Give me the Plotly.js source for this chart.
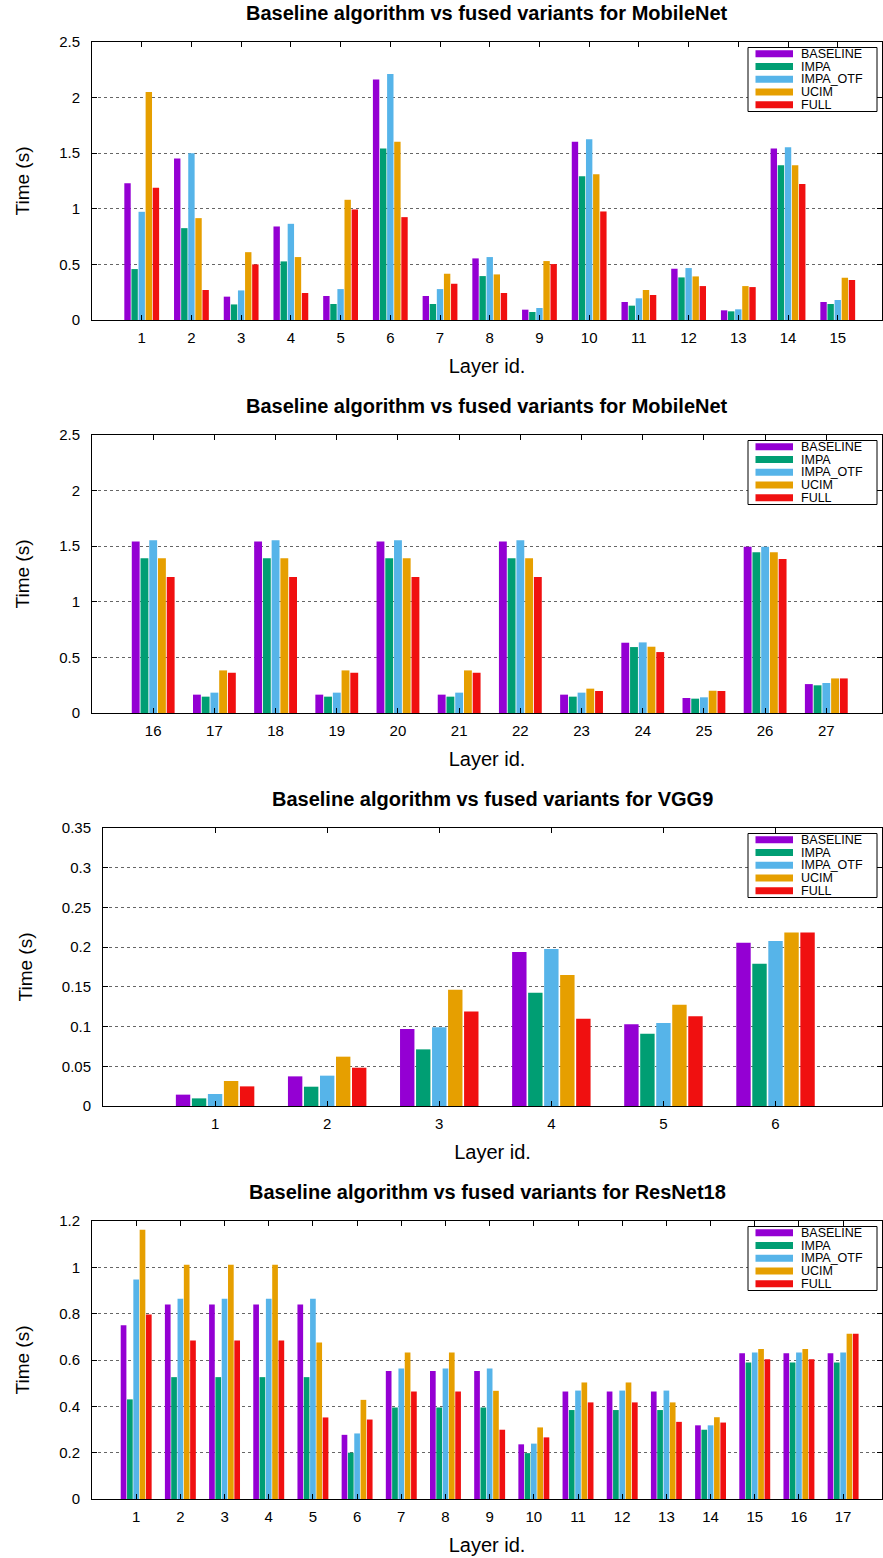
<!DOCTYPE html>
<html><head><meta charset="utf-8">
<script src="https://cdn.plot.ly/plotly-3.0.1.min.js"></script>
<style>html,body{margin:0;padding:0;background:#fff}</style>
</head><body><div id="chart" style="width:883px;height:1558px"></div>
<script>
// ---------- data ----------
const seriesNames = ['BASELINE', 'IMPA', 'IMPA_OTF', 'UCIM', 'FULL'];
const seriesColors = ['#9400d3', '#009e73', '#56b4e9', '#e69f00', '#f01010'];

const mobileA_layers = [1,2,3,4,5,6,7,8,9,10,11,12,13,14,15];
const mobileA_baseline = [1.23, 1.452, 0.21, 0.841, 0.216, 2.162, 0.216, 0.554, 0.093, 1.602, 0.162, 0.461, 0.087, 1.542, 0.162];
const mobileA_impa     = [0.458, 0.826, 0.14, 0.527, 0.144, 1.542, 0.144, 0.395, 0.072, 1.293, 0.129, 0.383, 0.078, 1.392, 0.144];
const mobileA_otf      = [0.973, 1.50, 0.266, 0.865, 0.278, 2.213, 0.278, 0.566, 0.108, 1.626, 0.195, 0.467, 0.096, 1.554, 0.18];
const mobileA_ucim     = [2.05, 0.916, 0.61, 0.566, 1.081, 1.602, 0.416, 0.41, 0.53, 1.311, 0.27, 0.392, 0.305, 1.392, 0.38];
const mobileA_full     = [1.19, 0.27, 0.5, 0.243, 0.994, 0.925, 0.326, 0.243, 0.503, 0.976, 0.225, 0.305, 0.296, 1.222, 0.36];

const mobileB_layers = [16,17,18,19,20,21,22,23,24,25,26,27];
const mobileB_baseline = [1.542, 0.165, 1.542, 0.165, 1.542, 0.165, 1.542, 0.165, 0.632, 0.135, 1.494, 0.26];
const mobileB_impa     = [1.392, 0.147, 1.392, 0.147, 1.392, 0.147, 1.392, 0.147, 0.593, 0.129, 1.446, 0.249];
const mobileB_otf      = [1.554, 0.183, 1.554, 0.183, 1.554, 0.183, 1.554, 0.183, 0.635, 0.141, 1.494, 0.27];
const mobileB_ucim     = [1.392, 0.383, 1.392, 0.383, 1.392, 0.383, 1.392, 0.219, 0.596, 0.2, 1.446, 0.311];
const mobileB_full     = [1.222, 0.362, 1.222, 0.362, 1.222, 0.362, 1.222, 0.198, 0.548, 0.198, 1.386, 0.311];

const vgg_layers = [1,2,3,4,5,6];
const vgg_baseline = [0.0143, 0.0373, 0.0969, 0.1938, 0.103, 0.2055];
const vgg_impa     = [0.0096, 0.0243, 0.0713, 0.1426, 0.091, 0.179];
const vgg_otf      = [0.0151, 0.0382, 0.099, 0.1976, 0.1044, 0.2076];
const vgg_ucim     = [0.0315, 0.0621, 0.1464, 0.165, 0.1275, 0.2185];
const vgg_full     = [0.0247, 0.0482, 0.119, 0.110, 0.113, 0.2185];

const resnet_layers = [1,2,3,4,5,6,7,8,9,10,11,12,13,14,15,16,17];
const resnet_baseline = [0.75, 0.84, 0.84, 0.84, 0.84, 0.277, 0.553, 0.553, 0.553, 0.236, 0.464, 0.464, 0.464, 0.318, 0.629, 0.629, 0.629];
const resnet_impa     = [0.43, 0.526, 0.526, 0.526, 0.526, 0.2, 0.395, 0.395, 0.395, 0.198, 0.384, 0.384, 0.384, 0.299, 0.589, 0.589, 0.589];
const resnet_otf      = [0.947, 0.864, 0.864, 0.864, 0.864, 0.283, 0.563, 0.563, 0.563, 0.239, 0.468, 0.468, 0.468, 0.318, 0.632, 0.632, 0.632];
const resnet_ucim     = [1.162, 1.011, 1.011, 1.011, 0.675, 0.428, 0.632, 0.632, 0.467, 0.309, 0.503, 0.503, 0.417, 0.353, 0.648, 0.648, 0.713];
const resnet_full     = [0.796, 0.684, 0.684, 0.684, 0.352, 0.343, 0.464, 0.464, 0.299, 0.266, 0.417, 0.417, 0.333, 0.330, 0.603, 0.603, 0.713];

// ---------- layout helpers ----------
const W = 883, H = 1558;
const ML = 92, MR = 1, MT = 42, MB = 59;
const PW = W - ML - MR, PH = H - MT - MB;
const X = px => (px - ML) / PW;
const Y = py => 1 - (py - MT) / PH;
const FONT = 'Liberation Sans, Arial, Helvetica, sans-serif';

const panels = [
  {title: 'Baseline algorithm vs fused variants for MobileNet', layers: mobileA_layers,
   values: [mobileA_baseline, mobileA_impa, mobileA_otf, mobileA_ucim, mobileA_full],
   yrange: [0, 2.5], dtick: 0.5, xrange: [0, 15.89], frame: [92, 882, 42, 320], ystand: 24},
  {title: 'Baseline algorithm vs fused variants for MobileNet', layers: mobileB_layers,
   values: [mobileB_baseline, mobileB_impa, mobileB_otf, mobileB_ucim, mobileB_full],
   yrange: [0, 2.5], dtick: 0.5, xrange: [15, 27.91], frame: [92, 882, 435, 713], ystand: 24},
  {title: 'Baseline algorithm vs fused variants for VGG9', layers: vgg_layers,
   values: [vgg_baseline, vgg_impa, vgg_otf, vgg_ucim, vgg_full],
   yrange: [0, 0.35], dtick: 0.05, xrange: [0, 6.95], frame: [103, 882, 828, 1106], ystand: 24},
  {title: 'Baseline algorithm vs fused variants for ResNet18', layers: resnet_layers,
   values: [resnet_baseline, resnet_impa, resnet_otf, resnet_ucim, resnet_full],
   yrange: [0, 1.2], dtick: 0.2, xrange: [0, 17.88], frame: [92, 882, 1221, 1499], ystand: 24}
];

const data = [];
const layout = {
  width: W, height: H,
  margin: {l: ML, r: MR, t: MT, b: MB},
  paper_bgcolor: '#fff', plot_bgcolor: '#fff',
  barmode: 'group', bargap: 2/7, bargroupgap: 0.1,
  showlegend: false,
  font: {family: FONT, color: '#000'},
  annotations: [], shapes: []
};

panels.forEach((p, i) => {
  const sfx = i === 0 ? '' : String(i + 1);
  const [l, r, t, b] = p.frame;
  p.values.forEach((vals, s) => {
    data.push({
      type: 'bar', x: p.layers, y: vals, name: seriesNames[s],
      marker: {color: seriesColors[s], line: {width: 0}},
      xaxis: 'x' + sfx, yaxis: 'y' + sfx, showlegend: false
    });
  });
  layout['xaxis' + sfx] = {
    domain: [X(l), X(r)], anchor: 'y' + sfx, range: p.xrange,
    tickmode: 'array', tickvals: p.layers, ticktext: p.layers.map(String),
    ticks: 'inside', ticklen: 5, tickcolor: '#000', tickwidth: 1,
    showline: true, linecolor: '#000', linewidth: 1, mirror: 'ticks',
    showgrid: false, zeroline: false, ticklabelstandoff: 4,
    tickfont: {size: 15, family: FONT, color: '#000'},
    title: {text: 'Layer id.', font: {size: 20, family: FONT, color: '#000'}, standoff: 13}
  };
  layout['yaxis' + sfx] = {
    domain: [Y(b), Y(t)], anchor: 'x' + sfx, range: p.yrange,
    tick0: 0, dtick: p.dtick,
    ticks: 'inside', ticklen: 5, tickcolor: '#000', tickwidth: 1,
    showline: true, linecolor: '#000', linewidth: 1, mirror: 'ticks',
    showgrid: true, gridcolor: '#666', griddash: 'dot', gridwidth: 1,
    zeroline: false, ticklabelstandoff: 8,
    tickfont: {size: 15, family: FONT, color: '#000'},
    title: {text: 'Time (s)', font: {size: 19, family: FONT, color: '#000'}, standoff: p.ystand}
  };
  // subplot title
  layout.annotations.push({
    text: '<b>' + p.title + '</b>', xref: 'paper', yref: 'paper',
    x: X((l + r) / 2), y: Y(t - 29), xanchor: 'center', yanchor: 'middle',
    showarrow: false, font: {size: 20, family: FONT, color: '#000'}
  });
  // legend box
  const bl = r - 134, br = r - 5, bt = t + 5.5, bb = t + 69.5;
  layout.shapes.push({type: 'rect', xref: 'paper', yref: 'paper', layer: 'above',
    x0: X(bl), x1: X(br), y0: Y(bb), y1: Y(bt),
    line: {color: '#000', width: 1}, fillcolor: '#fff'});
  seriesNames.forEach((nm, s) => {
    const cy = bt + 6.3 + 12.75 * s;
    layout.shapes.push({type: 'rect', xref: 'paper', yref: 'paper', layer: 'above',
      x0: X(bl + 7.5), x1: X(bl + 45), y0: Y(cy + 3.5), y1: Y(cy - 3.5),
      line: {width: 0}, fillcolor: seriesColors[s]});
    layout.annotations.push({text: nm, xref: 'paper', yref: 'paper',
      x: X(bl + 51), y: Y(cy), xanchor: 'left', yanchor: 'middle', showarrow: false,
      font: {size: 12.5, family: FONT, color: '#000'}});
  });
});

Plotly.newPlot('chart', data, layout, {displayModeBar: false, staticPlot: true});
</script></body></html>
